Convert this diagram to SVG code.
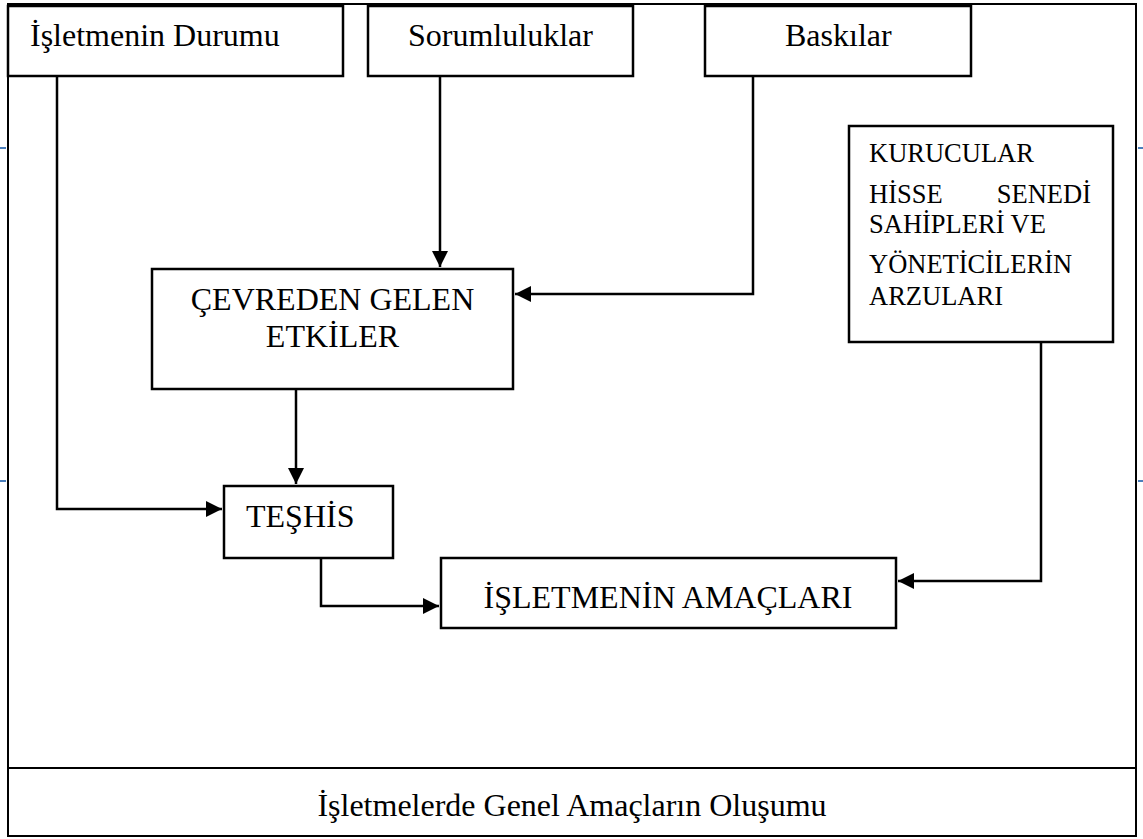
<svg xmlns="http://www.w3.org/2000/svg" width="1143" height="839" viewBox="0 0 1143 839">
  <style>
    .box { fill: #ffffff; stroke: #000000; stroke-width: 2.5; }
    .frame { fill: none; stroke: #000000; stroke-width: 2; }
    .wire { fill: none; stroke: #000000; stroke-width: 2.5; }
    .tick { stroke: #4a7ebb; stroke-width: 2; }
    .lbl { font-family: "Liberation Serif", "Times New Roman", serif; font-size: 32px; fill: #000000; }
    .small { font-family: "Liberation Serif", "Times New Roman", serif; font-size: 26.5px; fill: #000000; }
  </style>
  <defs>
    <marker id="arrow" viewBox="0 0 10 10" refX="10" refY="5" markerWidth="6.4" markerHeight="6.4" markerUnits="strokeWidth" orient="auto">
      <path d="M0,0 L10,5 L0,10 Z" fill="#000000"/>
    </marker>
  </defs>

  <rect width="1143" height="839" fill="#ffffff"/>

  <!-- outer frame and caption band -->
  <g id="frame">
    <rect class="frame" x="8" y="4" width="1128" height="832"/>
    <line class="frame" x1="8" y1="768" x2="1136" y2="768"/>
    <line class="tick" x1="0" y1="148" x2="6" y2="148"/>
    <line class="tick" x1="0" y1="481" x2="6" y2="481"/>
    <line class="tick" x1="1138" y1="148" x2="1143" y2="148"/>
    <line class="tick" x1="1138" y1="481" x2="1143" y2="481"/>
  </g>

  <!-- connectors -->
  <g id="connectors">
    <path class="wire" d="M57,76 V509 H222" marker-end="url(#arrow)"/>
    <path class="wire" d="M440,76 V267" marker-end="url(#arrow)"/>
    <path class="wire" d="M753,76 V294 H515" marker-end="url(#arrow)"/>
    <path class="wire" d="M296,389 V484" marker-end="url(#arrow)"/>
    <path class="wire" d="M321,558 V606 H439" marker-end="url(#arrow)"/>
    <path class="wire" d="M1041,342 V581 H898" marker-end="url(#arrow)"/>
  </g>

  <g id="node-durum">
    <rect class="box" x="8" y="6" width="335" height="70"/>
    <text class="lbl" x="30" y="46">İşletmenin Durumu</text>
  </g>

  <g id="node-sorumluluklar">
    <rect class="box" x="368" y="6" width="265" height="70"/>
    <text class="lbl" x="408" y="46">Sorumluluklar</text>
  </g>

  <g id="node-baskilar">
    <rect class="box" x="705" y="6" width="266" height="70"/>
    <text class="lbl" x="785" y="46">Baskılar</text>
  </g>

  <g id="node-kurucular">
    <rect class="box" x="849" y="126" width="264" height="216"/>
    <text class="small" x="869" y="162">KURUCULAR</text>
    <text class="small" x="869" y="203">HİSSE</text>
    <text class="small" x="1091" y="203" text-anchor="end">SENEDİ</text>
    <text class="small" x="869" y="233">SAHİPLERİ VE</text>
    <text class="small" x="869" y="273">YÖNETİCİLERİN</text>
    <text class="small" x="869" y="305">ARZULARI</text>
  </g>

  <g id="node-cevre">
    <rect class="box" x="152" y="269" width="361" height="120"/>
    <text class="lbl" x="332.5" y="310" text-anchor="middle">ÇEVREDEN GELEN</text>
    <text class="lbl" x="332.5" y="347" text-anchor="middle">ETKİLER</text>
  </g>

  <g id="node-teshis">
    <rect class="box" x="224" y="486" width="169" height="72"/>
    <text class="lbl" x="246" y="527">TEŞHİS</text>
  </g>

  <g id="node-amaclar">
    <rect class="box" x="441" y="558" width="455" height="70"/>
    <text class="lbl" x="668" y="608" text-anchor="middle">İŞLETMENİN AMAÇLARI</text>
  </g>

  <g id="caption">
    <text class="lbl" x="572" y="816" text-anchor="middle">İşletmelerde Genel Amaçların Oluşumu</text>
  </g>
</svg>
